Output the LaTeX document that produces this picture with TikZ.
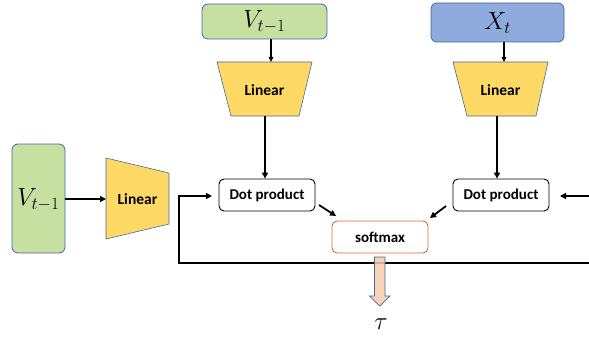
\documentclass[tikz,border=0pt]{standalone}
\usepackage{fontspec}
\setsansfont{Carlito}
\usetikzlibrary{arrows.meta,calc}
\definecolor{gfill}{RGB}{197,224,160}
\definecolor{bfill}{RGB}{143,170,220}
\definecolor{edgeblue}{RGB}{68,104,160}
\definecolor{yfill}{RGB}{255,217,102}
\definecolor{orng}{RGB}{210,110,50}
\definecolor{peach}{RGB}{248,203,173}
\tikzset{
  inbox/.style={draw=edgeblue, line width=0.8pt, rounded corners=6pt},
  lin/.style={draw=edgeblue, line width=0.6pt, fill=yfill},
  lbl/.style={font=\sffamily\bfseries\fontsize{15.5}{17}\selectfont, inner sep=0pt},
  mathlbl/.style={font=\fontsize{24}{28}\selectfont, inner sep=0pt},
  dotbox/.style={draw=black, line width=0.9pt, rounded corners=5pt, fill=white, minimum width=96pt, minimum height=32pt, inner sep=0pt, font=\sffamily\bfseries\fontsize{15}{17}\selectfont},
  thick arr/.style={line width=1.8pt, -{Triangle[length=6pt,width=6pt]}},
  thin arr/.style={line width=1.2pt, -{Triangle[length=5pt,width=4.5pt]}},
}
\begin{document}
\begin{tikzpicture}[x=1pt,y=-1pt]
\useasboundingbox (0,0) rectangle (589,337);
% input boxes
\draw[inbox, fill=gfill] (12,144) rectangle (65,253);
\node[mathlbl] (vleft) at (38.5,200) {$V_{t-1}$};
\coordinate (vleftE) at (65,199);
\draw[inbox, fill=gfill] (202,4) rectangle (327,39);
\node[mathlbl] (vtop) at (264.5,22) {$V_{t-1}$};
\coordinate (vtopS) at (271,39);
\draw[inbox, fill=bfill] (431,3) rectangle (564,42);
\node[mathlbl] (xtop) at (497.5,23) {$X_t$};
\coordinate (xtopS) at (504,42);
% linear trapezoids
\draw[lin] (106,158) -- (169,173) -- (169,224) -- (106,239) -- cycle;
\node[lbl] (lin0) at (137.5,199) {Linear};
\coordinate (lin0W) at (106,199);
\draw[lin] (217,62) -- (312,62) -- (299,116) -- (231,116) -- cycle;
\node[lbl] (lin1) at (264.5,90) {Linear};
\coordinate (lin1N) at (271,62);
\coordinate (lin1S) at (265,116);
\draw[lin] (453,62) -- (548,62) -- (536,116) -- (467,116) -- cycle;
\node[lbl] (lin2) at (500.5,90) {Linear};
\coordinate (lin2N) at (504,62);
\coordinate (lin2S) at (497,116);
% dot products and softmax
\node[dotbox] (dot1) at (267,195) {Dot product};
\node[dotbox] (dot2) at (501,195) {Dot product};
\node[dotbox, draw=orng] (soft) at (380,237) {softmax};
% arrows
\draw[thick arr] (vleftE) -- (lin0W);
\draw[thin arr] (vtopS) -- (lin1N);
\draw[thin arr] (xtopS) -- (lin2N);
\draw[thick arr] (lin1S) -- (lin1S |- dot1.north);
\draw[thick arr] (lin2S) -- (lin2S |- dot2.north);
\coordinate (d1a) at (319,205);
\coordinate (s1a) at (336,216);
\draw[thick arr] (d1a) -- (s1a);
\coordinate (d2a) at (446,206);
\coordinate (s2a) at (430,218);
\draw[thick arr] (d2a) -- (s2a);
% feedback
\coordinate (fbR) at (589,263);
\coordinate (fbL) at (179,263);
\coordinate (fbEnd) at (212,196);
\draw[thick arr] (fbR) -- (fbL) |- (fbEnd);
\coordinate (inR) at (589,196);
\coordinate (inEnd) at (560,196);
\draw[thick arr] (inR) -- (inEnd);
% output arrow
\draw[draw=edgeblue, line width=0.7pt, fill=peach, fill opacity=0.85]
  (374.5,257) -- (385,257) -- (385,296) -- (390,296) -- (379.75,306) -- (369.5,296) -- (374.5,296) -- cycle;
\node[font=\fontsize{32}{36}\selectfont, inner sep=0pt] (tau) at (381,324) {$\tau$};
\end{tikzpicture}
\end{document}
